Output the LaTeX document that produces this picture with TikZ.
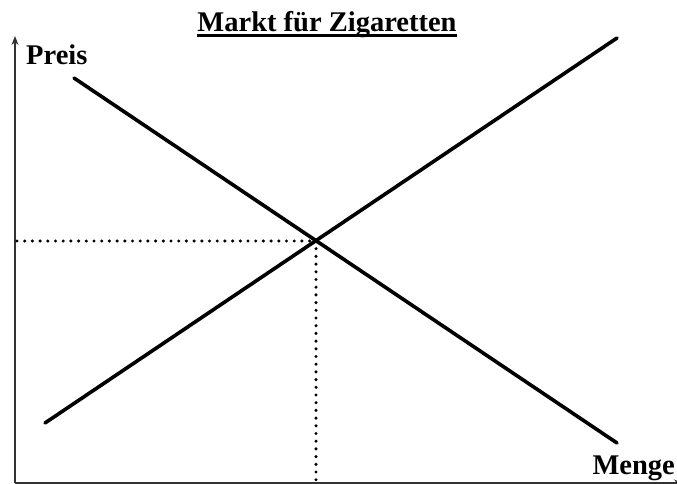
\documentclass[tikz,border=0pt]{standalone}
\usepackage{fontspec}
\setmainfont{Liberation Serif}
\usetikzlibrary{arrows.meta}

\begin{document}
\begin{tikzpicture}[x=1pt,y=-1pt,
	curve/.style={line width=3.6pt,line cap=round},
	axis/.style={line width=1.3pt,black!80,-{Stealth[length=9pt,width=7pt]}},
	guide/.style={line width=3.4pt,dash pattern=on 0pt off 7.7pt,line cap=round},
	lbl/.style={font=\fontsize{28.5}{30}\selectfont\bfseries,inner sep=0pt}]
				\useasboundingbox (0,0) rectangle (677,484);
				
				\coordinate (O)    at (15,483);
				\coordinate (ytop) at (15,36);
				\coordinate (xend) at (683,483);
				\coordinate (eq)   at (316,241);
				\coordinate (peq)  at (17,241);
				\coordinate (qeq)  at (316,483);
				
				\node[lbl,anchor=base] (title) at (327,32) {Markt für Zigaretten};
				\draw[line width=3.5pt] ([yshift=-3.5pt]title.base west) -- ([yshift=-3.5pt]title.base east);
				
				\node[lbl,anchor=base west] (preis) at (26,65) {Preis};
				\node[lbl,anchor=base east] (menge) at (675,474) {Menge};
				
				\draw[axis] (O) -- (ytop);
				\draw[axis] (O) -- (xend);
				
				% Nachfrage und Angebot
				\coordinate (d1) at (74,78);
				\coordinate (d2) at (617,443);
				\coordinate (s1) at (45,423);
				\coordinate (s2) at (617,38);
				\draw[curve] (d1) -- (d2);
				\draw[curve] (s1) -- (s2);
				
				\draw[guide] (peq) -- (eq);
				\draw[guide] (eq) -- (qeq);
			\end{tikzpicture}
\end{document}
